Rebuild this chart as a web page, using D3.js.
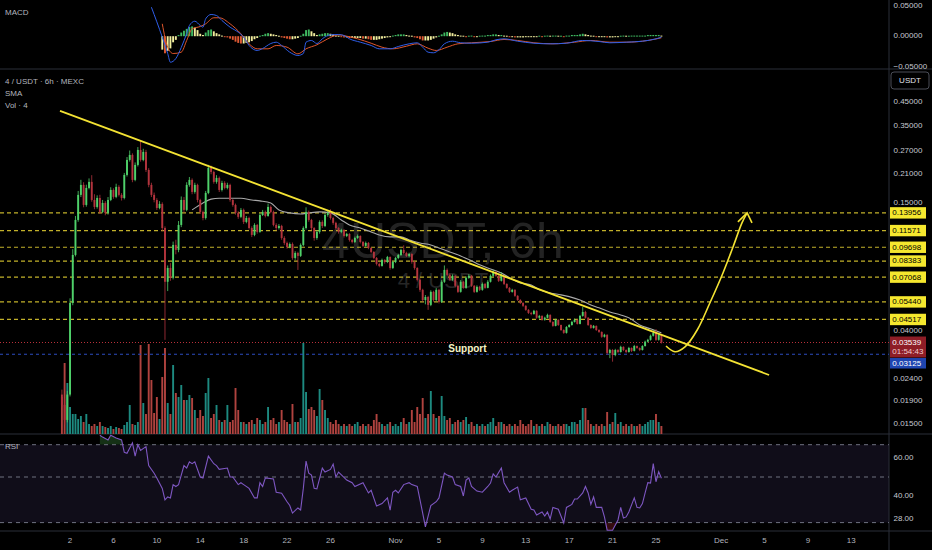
<!DOCTYPE html>
<html><head><meta charset="utf-8">
<script src="https://cdn.jsdelivr.net/npm/d3@7"></script>
<style>
html,body{margin:0;padding:0;background:#000;}
svg{display:block;font-family:"Liberation Sans",Arial,sans-serif;}
</style></head><body>
<svg id="c" width="932" height="550"></svg>
<script>
// ---------- DATA ----------
const startTime = "2024-10-01T06:00:00Z";
const barHours = 6;
const firstOpen = 0.0204;
const close = [0.0183,0.0156,0.0204,0.0538,0.0894,0.1295,0.1688,0.1876,0.1518,0.1817,
0.1937,0.1600,0.1486,0.1634,0.1410,0.1550,0.1395,0.1600,0.1779,0.1653,
0.1837,0.1688,0.1634,0.2085,0.2444,0.2576,0.1978,0.2318,0.2716,0.2444,
0.2660,0.2198,0.1876,0.1688,0.1600,0.1470,0.1534,0.1189,0.0673,0.0779,
0.0702,0.0994,0.0943,0.1228,0.1600,0.1440,0.1876,0.1978,0.1742,0.1876,
0.1600,0.1410,0.1322,0.1723,0.2245,0.2152,0.1937,0.2020,0.1779,0.1916,
0.1817,0.1876,0.1600,0.1518,0.1395,0.1338,0.1440,0.1268,0.1322,0.1189,
0.1105,0.1228,0.1141,0.1365,0.1410,0.1351,0.1486,0.1410,0.1228,0.1189,
0.1215,0.1070,0.1015,0.0973,0.1004,0.0866,0.0913,0.0885,0.0994,0.1189,
0.1410,0.1295,0.1189,0.1070,0.1141,0.1268,0.1215,0.1365,0.1395,0.1322,
0.1255,0.1189,0.1141,0.1165,0.1093,0.1117,0.1048,0.1026,0.1070,0.1093,
0.1026,0.0984,0.1015,0.0963,0.0923,0.0866,0.0813,0.0796,0.0848,0.0830,
0.0875,0.0779,0.0830,0.0866,0.0894,0.0943,0.0913,0.0885,0.0903,0.0830,
0.0779,0.0687,0.0618,0.0555,0.0573,0.0527,0.0605,0.0555,0.0618,0.0544,
0.0673,0.0763,0.0724,0.0687,0.0717,0.0645,0.0605,0.0673,0.0631,0.0702,
0.0717,0.0645,0.0605,0.0638,0.0618,0.0658,0.0631,0.0673,0.0717,0.0747,
0.0717,0.0680,0.0717,0.0658,0.0631,0.0605,0.0618,0.0580,0.0555,0.0538,
0.0522,0.0500,0.0484,0.0479,0.0495,0.0460,0.0469,0.0450,0.0460,0.0474,
0.0440,0.0422,0.0450,0.0426,0.0404,0.0392,0.0417,0.0426,0.0440,0.0450,
0.0431,0.0469,0.0489,0.0460,0.0426,0.0413,0.0422,0.0404,0.0396,0.0376,
0.0384,0.0317,0.0327,0.0310,0.0327,0.0320,0.0338,0.0327,0.0320,0.0334,
0.0324,0.0341,0.0334,0.0327,0.0341,0.0357,0.0364,0.0380,0.0392,0.0364,
0.0384,0.03539];
const high = [0.0215,0.0195,0.0212,0.0565,0.0950,0.1350,0.1760,0.1980,0.1930,0.1880,
0.2010,0.2080,0.1700,0.1680,0.1690,0.1600,0.1580,0.1650,0.1830,0.1810,
0.1900,0.1870,0.1720,0.2130,0.2520,0.2700,0.2620,0.2380,0.2800,0.3010,
0.2750,0.2720,0.2240,0.1920,0.1730,0.1630,0.1580,0.1560,0.1210,0.0800,
0.0820,0.1030,0.1050,0.1280,0.1660,0.1650,0.1930,0.2040,0.2010,0.1920,
0.1900,0.1620,0.1430,0.1760,0.2320,0.2300,0.2180,0.2080,0.2050,0.1960,
0.1950,0.1920,0.1900,0.1620,0.1540,0.1420,0.1470,0.1460,0.1350,0.1340,
0.1210,0.1250,0.1240,0.1390,0.1440,0.1430,0.1540,0.1510,0.1430,0.1250,
0.1240,0.1230,0.1090,0.1030,0.1020,0.1020,0.0930,0.0925,0.1010,0.1210,
0.1480,0.1430,0.1310,0.1200,0.1160,0.1290,0.1290,0.1390,0.1440,0.1450,
0.1340,0.1270,0.1200,0.1180,0.1175,0.1130,0.1125,0.1060,0.1085,0.1110,
0.1100,0.1035,0.1030,0.1025,0.0970,0.0930,0.0875,0.0825,0.0860,0.0855,
0.0885,0.0880,0.0840,0.0875,0.0905,0.0955,0.0990,0.0925,0.0915,0.0910,
0.0840,0.0785,0.0695,0.0625,0.0585,0.0580,0.0615,0.0612,0.0630,0.0625,
0.0685,0.0800,0.0775,0.0735,0.0728,0.0722,0.0652,0.0685,0.0680,0.0712,
0.0730,0.0722,0.0650,0.0648,0.0645,0.0668,0.0665,0.0685,0.0728,0.0765,
0.0755,0.0722,0.0745,0.0722,0.0662,0.0636,0.0625,0.0622,0.0584,0.0560,
0.0542,0.0525,0.0504,0.0490,0.0500,0.0498,0.0474,0.0472,0.0465,0.0480,
0.0477,0.0443,0.0455,0.0452,0.0428,0.0407,0.0421,0.0430,0.0445,0.0456,
0.0453,0.0474,0.0515,0.0495,0.0463,0.0429,0.0426,0.0424,0.0407,0.0398,
0.0388,0.0386,0.0331,0.0330,0.0331,0.0330,0.0342,0.0340,0.0329,0.0338,
0.0336,0.0345,0.0343,0.0336,0.0344,0.0361,0.0368,0.0385,0.0405,0.0408,
0.0390,0.0388];
const low = [0.0178,0.0148,0.0152,0.0200,0.0525,0.0880,0.1270,0.1650,0.1480,0.1490,
0.1790,0.1570,0.1450,0.1460,0.1380,0.1390,0.1360,0.1370,0.1580,0.1620,
0.1630,0.1660,0.1590,0.1610,0.2050,0.2400,0.1930,0.1950,0.2280,0.2400,
0.2410,0.2150,0.1830,0.1650,0.1560,0.1440,0.1450,0.1150,0.0364,0.0610,
0.0680,0.0690,0.0900,0.0920,0.1200,0.1400,0.1420,0.1840,0.1700,0.1710,
0.1560,0.1380,0.1290,0.1300,0.1700,0.2100,0.1900,0.1900,0.1740,0.1750,
0.1790,0.1790,0.1570,0.1490,0.1370,0.1310,0.1320,0.1240,0.1250,0.1170,
0.1080,0.1090,0.1120,0.1130,0.1350,0.1330,0.1340,0.1390,0.1210,0.1160,
0.1170,0.1050,0.0995,0.0955,0.0960,0.0850,0.0850,0.0763,0.0875,0.0980,
0.1170,0.1270,0.1160,0.1040,0.1050,0.1120,0.1190,0.1200,0.1340,0.1300,
0.1230,0.1170,0.1120,0.1125,0.1075,0.1080,0.1030,0.1010,0.1015,0.1060,
0.1010,0.0970,0.0975,0.0950,0.0910,0.0855,0.0800,0.0785,0.0790,0.0815,
0.0820,0.0765,0.0770,0.0820,0.0855,0.0885,0.0900,0.0875,0.0870,0.0815,
0.0765,0.0675,0.0605,0.0545,0.0530,0.0500,0.0520,0.0545,0.0548,0.0535,
0.0538,0.0665,0.0715,0.0680,0.0680,0.0635,0.0598,0.0600,0.0625,0.0625,
0.0695,0.0638,0.0598,0.0600,0.0610,0.0612,0.0625,0.0628,0.0668,0.0710,
0.0710,0.0672,0.0675,0.0650,0.0625,0.0598,0.0600,0.0574,0.0550,0.0532,
0.0516,0.0495,0.0479,0.0472,0.0475,0.0455,0.0455,0.0446,0.0446,0.0457,
0.0436,0.0418,0.0420,0.0422,0.0400,0.0388,0.0389,0.0414,0.0423,0.0437,
0.0428,0.0429,0.0465,0.0456,0.0422,0.0409,0.0410,0.0400,0.0392,0.0372,
0.0373,0.0312,0.0300,0.0289,0.0306,0.0316,0.0318,0.0323,0.0316,0.0318,
0.0320,0.0322,0.0331,0.0323,0.0325,0.0339,0.0354,0.0361,0.0377,0.0360,
0.0361,0.0350];
const volume = [37,71,51,27,20,20,15,18,12,20,
10,8,10,8,12,8,7,6,8,5,
7,6,5,9,12,29,10,9,12,89,
31,20,90,54,21,37,15,57,86,31,
20,69,41,37,49,34,34,39,36,24,
16,24,18,41,56,16,20,29,14,12,
14,29,12,14,46,24,12,12,10,12,
14,10,16,14,10,12,27,14,16,10,
12,24,14,12,10,30,12,12,16,91,
42,25,27,24,18,45,34,24,16,12,
10,14,10,8,10,8,10,8,10,12,
8,10,8,10,8,14,20,12,10,8,
10,12,8,10,8,12,16,10,12,24,
12,27,20,36,16,20,43,20,16,18,
38,18,14,16,10,12,14,12,14,17,
10,12,8,10,8,10,8,10,12,16,
8,12,12,10,8,10,8,10,8,14,
10,8,10,14,8,10,8,10,8,12,
10,8,8,10,8,10,10,8,12,12,
10,14,26,26,14,10,8,10,8,10,
8,22,10,12,21,10,12,8,10,8,
10,8,8,10,8,10,12,14,14,20,
12,8];

// SMA (bar index, value)
const smaBars = [48,52,55,58,63,66,70,73,77,80,84,88,91,95,99,103,106,110,114,117,121,125,128,132,136,139,143,147,151,154,158,162,165,169,173,176,180,184,187,191,195,198,202,206,209,213,217,221];
const smaValues = [0.1440,0.1549,0.1614,0.1630,0.1630,0.1630,0.1600,0.1584,0.1549,0.1440,0.1395,0.1380,0.1395,0.1410,0.1395,0.1295,0.1228,0.1189,0.1141,0.1105,0.1083,0.1083,0.1048,0.1015,0.0994,0.0963,0.0923,0.0885,0.0840,0.0805,0.0771,0.0739,0.0702,0.0665,0.0651,0.0618,0.0598,0.0586,0.0575,0.0555,0.0527,0.0511,0.0489,0.0474,0.0460,0.0426,0.0409,0.0392];

// RSI
const rsiBars = [14,15,17,18,20,22,23,24,26,27,28,29,31,32,34,35,37,38,39,40,41,42,43,45,46,47,48,49,51,52,54,56,57,58,61,62,63,65,66,67,69,71,72,73,74,75,78,79,81,83,84,85,87,88,89,90,91,92,93,94,96,97,99,100,101,102,105,107,108,111,113,114,116,118,120,121,122,123,124,126,128,129,131,133,134,136,138,139,141,142,144,145,147,148,149,150,151,153,155,157,158,159,160,162,163,165,166,168,169,171,173,174,175,177,178,179,180,181,183,185,186,188,189,190,192,193,194,195,196,197,199,200,201,203,205,206,207,208,209,211,212,213,214,215,216,217,218,219,220,221];
const rsiValues = [72,71,69.5,72,70.5,69.5,63,62.5,68,61,67,64,66,56,52,49.5,44,38,39.5,39,46,45,46,56,54.7,58,57,58,50,49.5,61,57,56,54,54.7,50,50,46,47,46,44,39,39,47,45,49.5,49,42,41.5,37,35,31,33.7,32.6,44,58.4,52,51,44,43.7,54.7,52.6,54,56.8,50,52.6,48.4,47,45,47,41.6,43,34.7,36,39,32.6,42,43,41.6,46,47,46,45,31,23.7,35,37,39,52,51,50,46,45,40,48.4,49.5,45,42.6,42,45,46.8,51.6,50,54.7,47,42,43,44.7,38,39,33,32.6,30,31.6,29.5,31.6,27.9,34,33,25.8,34,35.6,38.4,38.4,41.6,45,41.6,35.6,39.5,34,34,29,22,22,27.4,34,28.4,29,31.6,39,34,33.7,36,41.6,47,46.8,57,47.5,52.8,49.3];

// MACD
const macdBars = [33,37,39,40,42,44,46,47,49,51,52,53,55,57,59,62,65,67,69,72,74,77,79,81,84,87,89,90,92,94,96,99,102,104,106,110,114,117,121,124,128,131,133,135,137,139,141,144,147,151,157,160,163,168,174,180,186,192,198,202,208,214,219,221];
const macdValues = [0.0475,-0.0016,-0.0284,-0.0427,-0.0366,-0.0185,0.0044,0.0175,0.0246,0.0175,0.0148,0.0285,0.0356,0.0339,0.0257,0.0148,0.0066,-0.0016,-0.0152,-0.0234,-0.0202,-0.0120,-0.0098,-0.0152,-0.0262,-0.0316,-0.0284,-0.0098,-0.0070,-0.0120,-0.0043,0.0023,0.0028,0.0011,-0.0043,-0.0098,-0.0152,-0.0207,-0.0207,-0.0169,-0.0125,-0.0108,-0.0180,-0.0262,-0.0272,-0.0223,-0.0125,-0.0082,-0.0108,-0.0115,-0.0098,-0.0059,-0.0043,-0.0082,-0.0115,-0.0125,-0.0115,-0.0070,-0.0087,-0.0108,-0.0098,-0.0082,-0.0043,-0.0016];
const signalBars = [37,39,41,44,46,48,51,53,56,58,62,66,69,72,76,79,83,87,90,94,98,102,105,109,114,118,122,127,131,135,138,142,146,151,158,163,168,174,181,189,195,202,208,216,221];
const signalValues = [0.0203,-0.0180,-0.0284,-0.0262,-0.0070,0.0121,0.0159,0.0203,0.0302,0.0302,0.0203,0.0039,-0.0125,-0.0207,-0.0207,-0.0152,-0.0180,-0.0289,-0.0207,-0.0141,-0.0043,0.0023,0.0000,-0.0043,-0.0115,-0.0180,-0.0207,-0.0164,-0.0125,-0.0197,-0.0234,-0.0180,-0.0125,-0.0108,-0.0087,-0.0054,-0.0070,-0.0108,-0.0125,-0.0098,-0.0070,-0.0098,-0.0098,-0.0070,-0.0026];
const histStartBar = 37;
const histValues = [-0.022,-0.028,-0.024,-0.020,-0.010,-0.006,0.002,0.006,0.009,0.012,
0.015,0.016,0.014,0.010,0.004,0.002,0.006,0.010,0.011,0.008,
0.005,0.003,0.001,-0.001,-0.002,-0.004,-0.006,-0.009,-0.011,-0.012,
-0.012,-0.011,-0.010,-0.008,-0.005,-0.003,0.000,0.002,0.004,0.005,
0.004,0.003,0.002,0.000,-0.002,-0.003,-0.004,-0.005,-0.005,-0.004,
-0.003,0.000,0.004,0.010,0.011,0.008,0.005,0.002,0.003,0.004,
0.005,0.005,0.004,0.003,0.001,0.000,-0.001,-0.002,-0.002,-0.003,
-0.003,-0.003,-0.003,-0.003,-0.004,-0.004,-0.005,-0.006,-0.006,-0.006,
-0.005,-0.004,-0.003,-0.002,-0.001,0.001,0.002,0.003,0.003,0.003,
0.002,0.001,0.000,-0.002,-0.003,-0.005,-0.007,-0.007,-0.007,-0.006,
-0.004,-0.002,0.000,0.003,0.006,0.007,0.006,0.005,0.003,0.002,
0.001,0.000,-0.001,0.000,0.001,-0.001,-0.001,0.000,0.001,0.001,
0.002,0.002,0.003,0.003,0.002,0.002,0.001,0.000,-0.001,-0.001,
-0.002,-0.002,-0.002,-0.002,-0.001,-0.001,-0.001,-0.001,-0.001,0.000,
-0.001,0.000,0.001,0.000,0.001,0.001,0.000,0.000,-0.001,0.001,
0.001,0.002,0.002,0.002,0.003,0.004,0.003,0.002,0.001,0.000,
-0.001,-0.001,-0.001,-0.001,-0.002,-0.002,-0.002,-0.001,-0.001,0.000,
0.001,0.000,0.000,0.001,0.001,0.001,0.001,0.001,0.001,0.002,
0.002,0.002,0.002,0.002,0.001];

// horizontal levels & annotations
const levels = [0.13956,0.11571,0.09698,0.08383,0.07068,0.05440,0.04517];
const lastPrice = 0.03539;
const countdown = "01:54:43";
const supportLevel = 0.03125;
const trendBars = [-0.7,260.7];
const trendPrices = [0.411,0.0251];
const arrowBars = [222.7,226.0,229.7,234.2,238.9,243.7,247.4,250.7,252.6];
const arrowPrices = [0.0341,0.0321,0.0338,0.0404,0.0539,0.0739,0.0973,0.1255,0.1395];
const arrowHeadBars = [249.2,252.6,254.4];
const arrowHeadPrices = [0.1268,0.1395,0.1255];
const supportLabel = {text:"Support", bar:149.5, price:0.0330};

// axis ticks
const priceTicks = [0.45,0.35,0.27,0.21,0.15,0.04,0.024,0.019,0.015];
const macdTicks = [0.05,0,-0.05];
const rsiTicks = [60,40,28];
const rsiBands = [67,50,26];
const tickDates = ["2024-10-02","2024-10-06","2024-10-10","2024-10-14","2024-10-18","2024-10-22","2024-10-26","2024-11-01","2024-11-05","2024-11-09","2024-11-13","2024-11-17","2024-11-21","2024-11-25","2024-12-01","2024-12-05","2024-12-09","2024-12-13"];

// ---------- CHART ----------
const W=932,H=550,axisX=889;
const svg=d3.select("#c");
const t0=Date.parse(startTime), step=barHours*3600e3;
const barDate=i=>new Date(t0+i*step);
const N=close.length;
const x=d3.scaleUtc().domain([barDate(0),barDate(N-1)]).range([61.9,661.4]);
const xb=i=>x(barDate(i));
const y=d3.scaleLog().domain([0.01344,0.633]).range([434,70]);
const yv=d3.scaleLinear().domain([0,100]).range([434,334]);
const ym=d3.scaleLinear().domain([-0.05,0.05]).range([66.7,5.7]);
const yr=d3.scaleLinear().domain([30,70]).range([515,439]);
const fmt5=d3.format(".5f"), fmt2=d3.format(".2f");

const defs=svg.append("defs");
function clip(id,x0,y0,w,h){defs.append("clipPath").attr("id",id).append("rect").attr("x",x0).attr("y",y0).attr("width",w).attr("height",h);}
clip("cMain",0,70,axisX,364);
clip("cMacd",0,0,axisX,69);
clip("cRsi",0,434,axisX,97);
clip("cRsiUp",0,434,axisX,yr(rsiBands[0])-434);
clip("cRsiDn",0,yr(rsiBands[2]),axisX,531-yr(rsiBands[2]));
clip("cMacdAxis",axisX,0,W-axisX,69);

svg.append("rect").attr("width",W).attr("height",H).attr("fill","#000");

// RSI band background
svg.append("rect").attr("x",0).attr("y",yr(rsiBands[0])).attr("width",axisX)
  .attr("height",yr(rsiBands[2])-yr(rsiBands[0])).attr("fill","#100d19");

// separators
const sep="#2a2e39";
[69,434,531].forEach(v=>svg.append("line").attr("x1",0).attr("x2",W).attr("y1",v).attr("y2",v).attr("stroke",sep).attr("stroke-width",1));
svg.append("line").attr("x1",axisX).attr("x2",axisX).attr("y1",0).attr("y2",H).attr("stroke",sep);

// main pane
const gm=svg.append("g").attr("clip-path","url(#cMain)");
gm.append("text").attr("x",443).attr("y",258).attr("text-anchor","middle")
  .attr("font-size",50).attr("fill","#232323").text("4USDT, 6h");
gm.append("text").attr("x",443).attr("y",288).attr("text-anchor","middle")
  .attr("font-size",22).attr("fill","#262626").text("4 / USDT");

const opens=close.map((c,i)=>i===0?firstOpen:close[i-1]);
const up=i=>close[i]>=opens[i];

// volume
gm.append("g").selectAll("rect").data(volume).join("rect")
  .attr("x",(d,i)=>xb(i)-0.95).attr("width",1.9)
  .attr("y",d=>yv(d)).attr("height",d=>yv(0)-yv(d))
  .attr("fill",(d,i)=>up(i)?"#1d8a80":"#b0433f");

// level lines
gm.append("g").selectAll("line").data(levels).join("line")
  .attr("x1",0).attr("x2",axisX).attr("y1",d=>y(d)).attr("y2",d=>y(d))
  .attr("stroke","#c2b12a").attr("stroke-width",1.2).attr("stroke-dasharray","4,3");
gm.append("line").attr("x1",0).attr("x2",axisX).attr("y1",y(lastPrice)).attr("y2",y(lastPrice))
  .attr("stroke","#b8303a").attr("stroke-width",1).attr("stroke-dasharray","1,2");
gm.append("line").attr("x1",0).attr("x2",axisX).attr("y1",y(supportLevel)).attr("y2",y(supportLevel))
  .attr("stroke","#2c4cc0").attr("stroke-width",1.2).attr("stroke-dasharray","3,3");

// SMA
gm.append("path").datum(smaBars.map((b,k)=>[b,smaValues[k]]))
  .attr("d",d3.line().x(d=>xb(d[0])).y(d=>y(d[1])).curve(d3.curveMonotoneX))
  .attr("fill","none").attr("stroke","#a9a9a9").attr("stroke-width",1.1);

// candles
const cg=gm.append("g");
close.forEach((c,i)=>{
  const col=up(i)?"#4fd16a":"#b3343d";
  cg.append("line").attr("x1",xb(i)).attr("x2",xb(i)).attr("y1",y(high[i])).attr("y2",y(low[i]))
    .attr("stroke",col).attr("stroke-width",0.8);
  const top=y(Math.max(c,opens[i])), bot=y(Math.min(c,opens[i]));
  cg.append("rect").attr("x",xb(i)-0.95).attr("width",1.9).attr("y",top).attr("height",Math.max(0.8,bot-top)).attr("fill",col);
});

// trendline & arrow
gm.append("line").attr("x1",xb(trendBars[0])).attr("y1",y(trendPrices[0]))
  .attr("x2",xb(trendBars[1])).attr("y2",y(trendPrices[1]))
  .attr("stroke","#f3e233").attr("stroke-width",1.8);
gm.append("path").datum(arrowBars.map((b,k)=>[b,arrowPrices[k]]))
  .attr("d",d3.line().x(d=>xb(d[0])).y(d=>y(d[1])).curve(d3.curveCatmullRom))
  .attr("fill","none").attr("stroke","#f3e233").attr("stroke-width",1.6);
gm.append("path").datum(arrowHeadBars.map((b,k)=>[b,arrowHeadPrices[k]]))
  .attr("d",d3.line().x(d=>xb(d[0])).y(d=>y(d[1])))
  .attr("fill","none").attr("stroke","#f3e233").attr("stroke-width",1.6);
gm.append("text").attr("x",xb(supportLabel.bar)).attr("y",y(supportLabel.price))
  .attr("text-anchor","middle").attr("dominant-baseline","middle")
  .attr("font-size",10).attr("font-weight","bold").attr("fill","#f6f3c6").text(supportLabel.text);

// MACD pane
const gmac=svg.append("g").attr("clip-path","url(#cMacd)");
gmac.append("g").selectAll("rect").data(histValues).join("rect")
  .attr("x",(d,k)=>xb(histStartBar+k)-0.95).attr("width",1.9)
  .attr("y",d=>Math.min(ym(d),ym(0))-(d===0?0.5:0)).attr("height",d=>Math.max(1,Math.abs(ym(d)-ym(0))))
  .attr("fill",(d,k)=>{const p=k>0?histValues[k-1]:d;
    if(d>=0) return d>=p?"#3fb860":"#f2ee9e";
    return d<p?"#e05a34":"#f2ee9e";});
const macdLine=d3.line().x(d=>xb(d[0])).y(d=>ym(d[1])).curve(d3.curveMonotoneX);
gmac.append("path").datum(signalBars.map((b,k)=>[b,signalValues[k]])).attr("d",macdLine)
  .attr("fill","none").attr("stroke","#e0562b").attr("stroke-width",1);
gmac.append("path").datum(macdBars.map((b,k)=>[b,macdValues[k]])).attr("d",macdLine)
  .attr("fill","none").attr("stroke","#2f5ee8").attr("stroke-width",1);

// RSI pane
const gr=svg.append("g").attr("clip-path","url(#cRsi)");
const rsiPts=rsiBars.map((b,k)=>[b,rsiValues[k]]);
gr.append("path").datum(rsiPts).attr("clip-path","url(#cRsiUp)")
  .attr("d",d3.area().x(d=>xb(d[0])).y0(yr(rsiBands[0])).y1(d=>yr(d[1])))
  .attr("fill","rgba(76,175,80,0.28)");
gr.append("path").datum(rsiPts).attr("clip-path","url(#cRsiDn)")
  .attr("d",d3.area().x(d=>xb(d[0])).y0(yr(rsiBands[2])).y1(d=>yr(d[1])))
  .attr("fill","rgba(242,54,69,0.22)");
gr.append("g").selectAll("line").data(rsiBands).join("line")
  .attr("x1",0).attr("x2",axisX).attr("y1",d=>yr(d)).attr("y2",d=>yr(d))
  .attr("stroke","#6f7280").attr("stroke-width",1).attr("stroke-dasharray","4,4");
gr.append("path").datum(rsiPts).attr("d",d3.line().x(d=>xb(d[0])).y(d=>yr(d[1])))
  .attr("fill","none").attr("stroke","#7e57c2").attr("stroke-width",1.1);

// right axis labels
const axCol="#c5c8d0", fs=8, boxH=11.4;
// keep a tick label from sitting under a level badge: nudge it just above the badge
const tickY=v=>{let ty=y(v);
  levels.forEach(l=>{const ly=y(l); if(Math.abs(ty-ly)<boxH) ty=ly-boxH/2-4.2;});
  return ty;};
const ga=svg.append("g").attr("font-size",fs).attr("fill",axCol);
ga.append("g").attr("clip-path","url(#cMacdAxis)").selectAll("text").data(macdTicks).join("text")
  .attr("x",893.5).attr("y",d=>ym(d)).attr("dominant-baseline","middle").text(d=>fmt5(d));
ga.append("g").selectAll("text").data(priceTicks).join("text")
  .attr("x",893.5).attr("y",d=>tickY(d)).attr("dominant-baseline","middle").text(d=>fmt5(d));
ga.append("g").selectAll("text").data(rsiTicks).join("text")
  .attr("x",893.5).attr("y",d=>yr(d)).attr("dominant-baseline","middle").text(d=>fmt2(d));

// USDT box
svg.append("rect").attr("x",891).attr("y",72).attr("width",38).attr("height",17).attr("rx",3)
  .attr("fill","#000").attr("stroke","#4a4d57");
svg.append("text").attr("x",910).attr("y",80.8).attr("text-anchor","middle").attr("dominant-baseline","middle")
  .attr("font-size",fs).attr("fill","#e0e3eb").text("USDT");

// level labels
const gl=svg.append("g");
levels.forEach(v=>{
  gl.append("rect").attr("x",890).attr("y",y(v)-boxH/2).attr("width",36).attr("height",boxH).attr("fill","#f5e72e");
  gl.append("text").attr("x",892.3).attr("y",y(v)+0.3).attr("dominant-baseline","middle")
    .attr("font-size",fs).attr("fill","#000").text(fmt5(v));
});
gl.append("rect").attr("x",890).attr("y",y(lastPrice)-6).attr("width",36).attr("height",21).attr("fill","#8e1d26");
gl.append("text").attr("x",892.3).attr("y",y(lastPrice)+0.5).attr("dominant-baseline","middle")
  .attr("font-size",fs).attr("fill","#fff").text(fmt5(lastPrice));
gl.append("text").attr("x",892.3).attr("y",y(lastPrice)+9.5).attr("dominant-baseline","middle")
  .attr("font-size",fs).attr("fill","#f0cccc").text(countdown);
gl.append("rect").attr("x",890).attr("y",y(lastPrice)+15.5).attr("width",36).attr("height",10.5).attr("fill","#1f45b0");
gl.append("text").attr("x",892.3).attr("y",y(lastPrice)+21).attr("dominant-baseline","middle")
  .attr("font-size",fs).attr("fill","#fff").text(fmt5(supportLevel));

// x axis labels
const fmtDay=d3.utcFormat("%-d"), fmtMon=d3.utcFormat("%b");
svg.append("g").selectAll("text").data(tickDates.map(s=>new Date(s+"T00:00:00Z"))).join("text")
  .attr("x",d=>x(d)).attr("y",543).attr("text-anchor","middle").attr("font-size",8).attr("fill","#b2b5be")
  .text(d=>d.getUTCDate()===1?fmtMon(d):fmtDay(d));

// legends
const lg=svg.append("g").attr("font-size",8).attr("fill","#b2b5be");
lg.append("text").attr("x",5).attr("y",15).text("MACD");
lg.append("text").attr("x",5).attr("y",84).text("4 / USDT · 6h · MEXC");
lg.append("text").attr("x",5).attr("y",96).text("SMA");
lg.append("text").attr("x",5).attr("y",107.5).text("Vol · 4");
lg.append("text").attr("x",5).attr("y",449).text("RSI");
</script>
</body></html>
